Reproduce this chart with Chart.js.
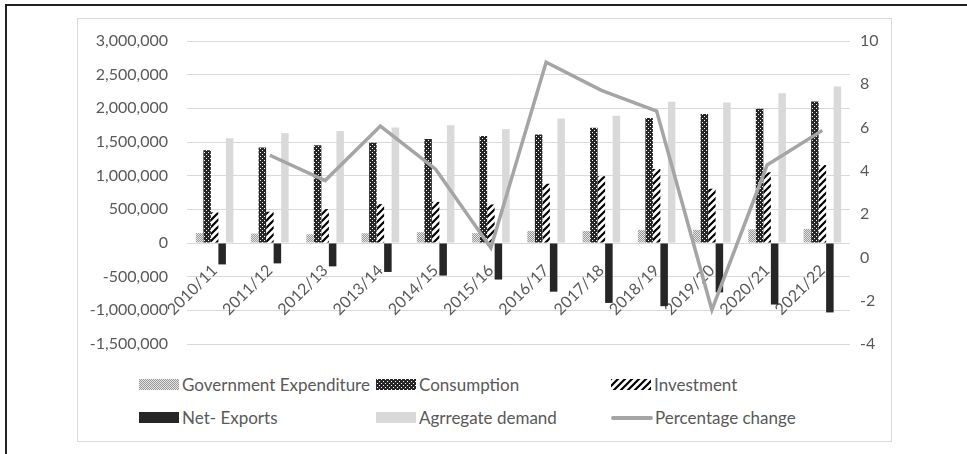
<!DOCTYPE html>
<html>
<head>
<meta charset="utf-8">
<script src="https://cdn.jsdelivr.net/npm/chart.js@4"></script>
<style>
  body { margin: 0; background: #fff; font-family: Lato, sans-serif; }
  .frameTop { position: absolute; left: 5px; top: 4px; width: 962px; height: 2px; background: #222; }
  .frameLeft { position: absolute; left: 5px; top: 4px; width: 2px; height: 450px; background: #222; }
  .box { position: absolute; left: 77px; top: 18px; width: 815px; height: 424px; border: 1px solid #d9d9d9; box-sizing: border-box; }
  #wrap { position: absolute; left: 77px; top: 18px; width: 814px; height: 350px; }
  .legend { position: absolute; left: 139px; top: 374px; margin: 0; padding: 0; list-style: none;
            display: grid; grid-template-columns: 237px 235px 240px; row-gap: 12px; }
  .legend li { display: flex; align-items: center; height: 21px; font-size: 17px; color: #595959; }
  .square { display: inline-block; width: 40px; height: 11px; margin-right: 3px; }
  .lineIcon { display: inline-block; width: 42px; height: 4px; margin-right: 2px; border-radius: 2px; }
</style>
</head>
<body>
<div class="frameTop"></div>
<div class="frameLeft"></div>
<div class="box"></div>
<div id="wrap"><canvas id="chart" width="814" height="350"></canvas></div>
<ul class="legend" id="legend"></ul>
<script>
// data
const years = ['2010/11', '2011/12', '2012/13', '2013/14', '2014/15', '2015/16',
               '2016/17', '2017/18', '2018/19', '2019/20', '2020/21', '2021/22'];
const govExpenditure = [147000, 140000, 130000, 145000, 160000, 147000, 180000, 180000, 195000, 195000, 205000, 210000];
const consumption = [1378000, 1417000, 1452000, 1490000, 1545000, 1588000, 1613000, 1711000, 1857000, 1916000, 1994000, 2100000];
const investment = [455000, 464000, 503000, 577000, 611000, 572000, 880000, 992000, 1100000, 806000, 1050000, 1158000];
const netExports = [-318000, -303000, -347000, -430000, -484000, -543000, -723000, -890000, -938000, -733000, -914000, -1031000];
const aggDemand = [1554000, 1632000, 1662000, 1716000, 1750000, 1691000, 1848000, 1891000, 2097000, 2087000, 2224000, 2326000];
const pctChange = [null, 4.72, 3.55, 6.07, 4.08, 0.44, 9.02, 7.72, 6.76, -2.42, 4.27, 5.87];

// small tiles for the bar fills
function makeTile(size, draw) {
    const c = document.createElement('canvas');
    c.width = size; c.height = size;
    draw(c.getContext('2d'));
    return c;
}
const dotTile = makeTile(2, (g) => {
    g.fillStyle = '#e4e4e4'; g.fillRect(0, 0, 2, 2);
    g.fillStyle = '#9a9a9a'; g.fillRect(0, 0, 1, 1); g.fillRect(1, 1, 1, 1);
});
const darkTile = makeTile(4, (g) => {
    g.fillStyle = '#262626'; g.fillRect(0, 0, 4, 4);
    g.fillStyle = '#ffffff'; g.fillRect(1, 0, 1, 1); g.fillRect(3, 2, 1, 1);
});
const stripeTile = makeTile(7, (g) => {
    g.fillStyle = '#ffffff'; g.fillRect(0, 0, 7, 7);
    g.strokeStyle = '#000'; g.lineWidth = 2.2;
    g.beginPath();
    g.moveTo(-1, 8); g.lineTo(8, -1);
    g.moveTo(-1, 1); g.lineTo(1, -1);
    g.moveTo(6, 8); g.lineTo(8, 6);
    g.stroke();
});

const ctx = document.getElementById('chart').getContext('2d');
const govFill = ctx.createPattern(dotTile, 'repeat');
const consFill = ctx.createPattern(darkTile, 'repeat');
const invFill = ctx.createPattern(stripeTile, 'repeat');

const fontSpec = { family: 'Lato, sans-serif', size: 16 };
const textColor = '#595959';

// fixed axis widths, and no extra label padding above / below the plot
const fitWidth = (w) => (s) => { s.width = w; s.paddingTop = 0; s.paddingBottom = 0; };

const chart = new Chart(ctx, {
    data: {
        labels: years,
        datasets: [
            { type: 'bar', label: 'Government Expenditure', data: govExpenditure, backgroundColor: govFill, yAxisID: 'y', order: 2 },
            { type: 'bar', label: 'Consumption', data: consumption, backgroundColor: consFill, yAxisID: 'y', order: 2 },
            { type: 'bar', label: 'Investment', data: investment, backgroundColor: invFill, yAxisID: 'y', order: 2 },
            { type: 'bar', label: 'Net- Exports', data: netExports, backgroundColor: '#262626', yAxisID: 'y', order: 2 },
            { type: 'bar', label: 'Agrregate demand', data: aggDemand, backgroundColor: '#d9d9d9', yAxisID: 'y', order: 2 },
            { type: 'line', label: 'Percentage change', data: pctChange, borderColor: '#a5a5a5', backgroundColor: '#a5a5a5',
              borderWidth: 3.5, pointRadius: 0, tension: 0, yAxisID: 'y1', order: 1 },
        ],
    },
    options: {
        responsive: false,
        animation: false,
        layout: { autoPadding: false, padding: { top: 23, bottom: 24, left: 0, right: 0 } },
        datasets: { bar: { categoryPercentage: 0.68, barPercentage: 1.0 } },
        scales: {
            x: {
                position: { y: 0 },
                afterFit: (s) => { s.height = 0; },
                grid: { display: false, drawTicks: false },
                border: { display: false },
                ticks: { color: textColor, font: fontSpec, minRotation: 45, maxRotation: 45, padding: 18, autoSkip: false },
            },
            y: {
                position: 'left',
                min: -1500000,
                max: 3000000,
                afterFit: fitWidth(110),
                grid: { color: '#d9d9d9', drawTicks: false },
                border: { display: false },
                ticks: { stepSize: 500000, color: textColor, font: fontSpec, padding: 19,
                         callback: (v) => v.toLocaleString('en-US') },
            },
            y1: {
                position: 'right',
                min: -4,
                max: 10,
                afterFit: fitWidth(41),
                grid: { display: false, drawTicks: false },
                border: { display: false },
                ticks: { stepSize: 2, color: textColor, font: fontSpec, padding: 10 },
            },
        },
        plugins: {
            legend: { display: false },
            tooltip: { enabled: false },
        },
    },
});

// html legend, three columns like the original
const swatches = [dotTile, darkTile, stripeTile];
const legendItems = chart.data.datasets.map((ds, i) => {
    if (ds.type === 'line') {
        return `<li><span class="lineIcon" style="background:${ds.borderColor}"></span>${ds.label}</li>`;
    }
    const bg = i < swatches.length
        ? `background-image:url(${swatches[i].toDataURL()})`
        : `background-color:${ds.backgroundColor}`;
    return `<li><span class="square" style="${bg}"></span>${ds.label}</li>`;
});
document.getElementById('legend').innerHTML = legendItems.join('');
</script>
</body>
</html>
